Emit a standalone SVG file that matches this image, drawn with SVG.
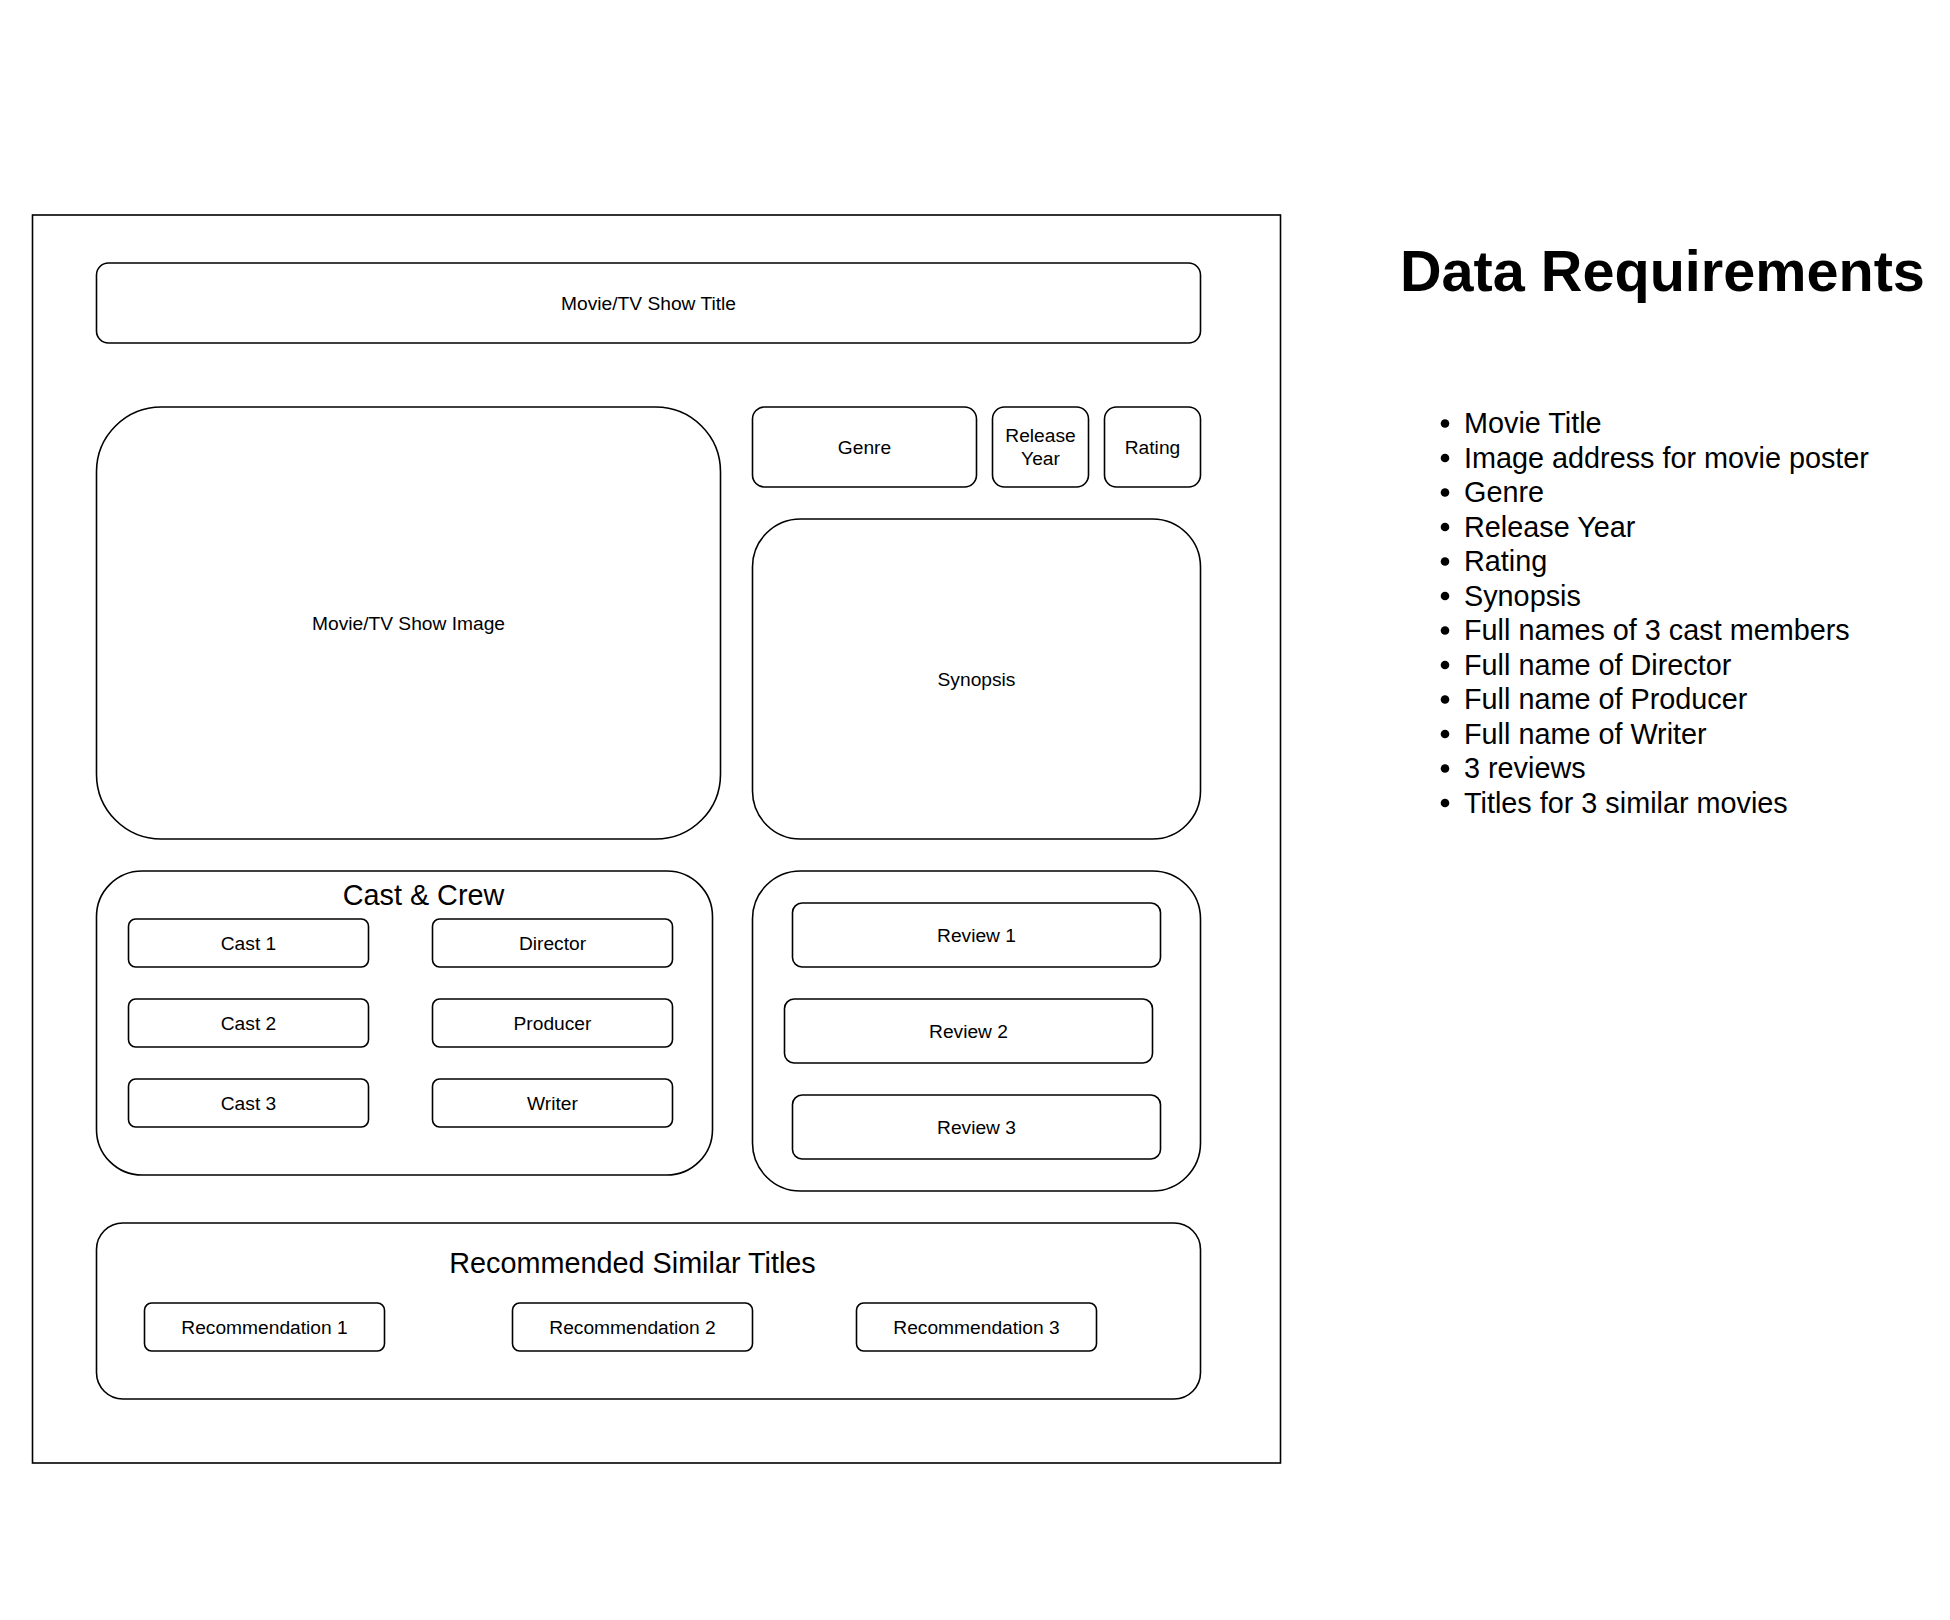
<svg xmlns="http://www.w3.org/2000/svg" width="1950" height="1620" viewBox="0 0 1950 1620">
<style>
.b{fill:#fff;stroke:#000;stroke-width:1.6}
.t{font-family:"Liberation Sans",Arial,Helvetica,sans-serif;font-size:19.2px;fill:#000;text-anchor:middle}
.m{font-family:"Liberation Sans",Arial,Helvetica,sans-serif;font-size:28.8px;fill:#000;text-anchor:middle}
.l{font-family:"Liberation Sans",Arial,Helvetica,sans-serif;font-size:28.8px;fill:#000}
.h{font-family:"Liberation Sans",Arial,Helvetica,sans-serif;font-size:57.6px;font-weight:bold;fill:#000}
</style>
<rect width="1950" height="1620" fill="#fff"/>
<g id="wireframe" transform="translate(0.5,1.5)">
<g id="page"><rect class="b" x="32" y="213.5" width="1248" height="1248"/></g>
<g id="title"><rect class="b" x="96" y="261.5" width="1104" height="80" rx="12"/><text class="t" x="648" y="308.2">Movie/TV Show Title</text></g>
<g id="image"><rect class="b" x="96" y="405.5" width="624" height="432" rx="64.8"/><text class="t" x="408" y="628.2">Movie/TV Show Image</text></g>
<g id="genre"><rect class="b" x="752" y="405.5" width="224" height="80" rx="12"/><text class="t" x="864" y="452.2">Genre</text></g>
<g id="release"><rect class="b" x="992" y="405.5" width="96" height="80" rx="12"/><text class="t" x="1040" y="440.7">Release</text><text class="t" x="1040" y="463.7">Year</text></g>
<g id="rating"><rect class="b" x="1104" y="405.5" width="96" height="80" rx="12"/><text class="t" x="1152" y="452.2">Rating</text></g>
<g id="synopsis"><rect class="b" x="752" y="517.5" width="448" height="320" rx="48"/><text class="t" x="976" y="684.2">Synopsis</text></g>
<g id="castcrew"><rect class="b" x="96" y="869.5" width="616" height="304" rx="45.6"/><text class="m" x="423" y="903.2">Cast &amp; Crew</text></g>
<g id="cast1"><rect class="b" x="128" y="917.5" width="240" height="48" rx="7.2"/><text class="t" x="248" y="948.2">Cast 1</text></g>
<g id="director"><rect class="b" x="432" y="917.5" width="240" height="48" rx="7.2"/><text class="t" x="552" y="948.2">Director</text></g>
<g id="cast2"><rect class="b" x="128" y="997.5" width="240" height="48" rx="7.2"/><text class="t" x="248" y="1028.2">Cast 2</text></g>
<g id="producer"><rect class="b" x="432" y="997.5" width="240" height="48" rx="7.2"/><text class="t" x="552" y="1028.2">Producer</text></g>
<g id="cast3"><rect class="b" x="128" y="1077.5" width="240" height="48" rx="7.2"/><text class="t" x="248" y="1108.2">Cast 3</text></g>
<g id="writer"><rect class="b" x="432" y="1077.5" width="240" height="48" rx="7.2"/><text class="t" x="552" y="1108.2">Writer</text></g>
<g id="reviews"><rect class="b" x="752" y="869.5" width="448" height="320" rx="48"/></g>
<g id="review1"><rect class="b" x="792" y="901.5" width="368" height="64" rx="9.6"/><text class="t" x="976" y="940.2">Review 1</text></g>
<g id="review2"><rect class="b" x="784" y="997.5" width="368" height="64" rx="9.6"/><text class="t" x="968" y="1036.2">Review 2</text></g>
<g id="review3"><rect class="b" x="792" y="1093.5" width="368" height="64" rx="9.6"/><text class="t" x="976" y="1132.2">Review 3</text></g>
<g id="recommended"><rect class="b" x="96" y="1221.5" width="1104" height="176" rx="26.4"/><text class="m" x="632" y="1271.8">Recommended Similar Titles</text></g>
<g id="rec1"><rect class="b" x="144" y="1301.5" width="240" height="48" rx="7.2"/><text class="t" x="264" y="1332.2">Recommendation 1</text></g>
<g id="rec2"><rect class="b" x="512" y="1301.5" width="240" height="48" rx="7.2"/><text class="t" x="632" y="1332.2">Recommendation 2</text></g>
<g id="rec3"><rect class="b" x="856" y="1301.5" width="240" height="48" rx="7.2"/><text class="t" x="976" y="1332.2">Recommendation 3</text></g>
</g>
<g id="connectors"></g>
<g id="requirements">
<text class="h" x="1400" y="290.5">Data Requirements</text>
<g fill="#000">
<circle cx="1445" cy="423.5" r="4.3"/><circle cx="1445" cy="458" r="4.3"/><circle cx="1445" cy="492.5" r="4.3"/><circle cx="1445" cy="527" r="4.3"/><circle cx="1445" cy="561.5" r="4.3"/><circle cx="1445" cy="596" r="4.3"/><circle cx="1445" cy="630.5" r="4.3"/><circle cx="1445" cy="665" r="4.3"/><circle cx="1445" cy="699.5" r="4.3"/><circle cx="1445" cy="734" r="4.3"/><circle cx="1445" cy="768.5" r="4.3"/><circle cx="1445" cy="803" r="4.3"/>
</g>
<text class="l" x="1464" y="433">Movie Title</text>
<text class="l" x="1464" y="467.5">Image address for movie poster</text>
<text class="l" x="1464" y="502">Genre</text>
<text class="l" x="1464" y="536.5">Release Year</text>
<text class="l" x="1464" y="571">Rating</text>
<text class="l" x="1464" y="605.5">Synopsis</text>
<text class="l" x="1464" y="640">Full names of 3 cast members</text>
<text class="l" x="1464" y="674.5">Full name of Director</text>
<text class="l" x="1464" y="709">Full name of Producer</text>
<text class="l" x="1464" y="743.5">Full name of Writer</text>
<text class="l" x="1464" y="778">3 reviews</text>
<text class="l" x="1464" y="812.5">Titles for 3 similar movies</text>
</g>
</svg>
